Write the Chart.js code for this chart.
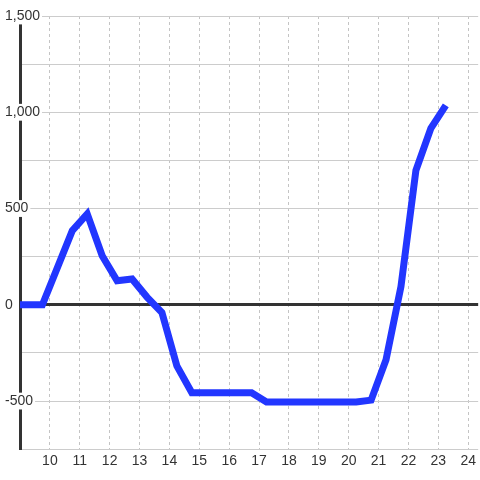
<!DOCTYPE html>
<html>
<head>
<meta charset="utf-8">
<script src="https://cdn.jsdelivr.net/npm/chart.js@4"></script>
<style>
  html, body { margin: 0; padding: 0; background: #fff; }
</style>
</head>
<body>
<canvas id="canvas-line" width="480" height="480"></canvas>
<script>
// x axis (hour of day)
const hours = [9, 9.75, 10.75, 11.25, 11.75, 12.25, 12.75, 13.25, 13.75, 14.25, 14.75,
  16.75, 17.25, 20.25, 20.75, 21.25, 21.75, 22.25, 22.75, 23.25];
// y axis
const values = [0, 0, 385, 472, 255, 125, 134, 40, -40, -318, -457,
  -457, -505, -505, -495, -285, 95, 698, 917, 1036];
const yTickLabels = [-500, 0, 500, 1000, 1500];
const xTickLabels = [10, 11, 12, 13, 14, 15, 16, 17, 18, 19, 20, 21, 22, 23, 24];

Chart.defaults.font.family = "'Liberation Sans', Arial, sans-serif";
Chart.defaults.font.size = 14;
Chart.defaults.color = "#333";

const points = hours.map((h, i) => ({ x: h, y: values[i] }));

let context = document.getElementById("canvas-line").getContext("2d");
new Chart(context, {
  type: "line",
  data: {
    datasets: [
      {
        data: points,
        borderColor: "#2236ff",
        borderWidth: 7,
        pointRadius: 0,
        tension: 0,
        fill: false,
      },
    ],
  },
  options: {
    responsive: false,
    animation: false,
    layout: { padding: { left: 3, right: 0, top: 16, bottom: 6 } },
    plugins: { legend: { display: false }, tooltip: { enabled: false } },
    scales: {
      x: {
        type: "linear",
        min: 9,
        max: 24.333,
        ticks: {
          stepSize: 1,
          includeBounds: false,
          autoSkip: false,
          maxRotation: 0,
          padding: 4,
          callback: (v) => (xTickLabels.includes(v) ? String(v) : ""),
        },
        grid: {
          drawTicks: false,
          color: (ctx) => (xTickLabels.includes(ctx.tick && ctx.tick.value) ? "#c4c4c4" : "rgba(0,0,0,0)"),
        },
        border: { display: false, dash: [3, 3] },
      },
      y: {
        min: -750,
        max: 1500,
        afterFit: (scale) => {
          scale.width = 17;
        },
        ticks: {
          stepSize: 250,
          autoSkip: false,
          mirror: true,
          padding: -15, // pull mirrored labels back over the axis line
          showLabelBackdrop: true,
          backdropColor: "#ffffff",
          backdropPadding: { left: 2, right: 2, top: 0, bottom: 0 },
          callback: (v) => (yTickLabels.includes(v) ? v.toLocaleString("en-US") : ""),
        },
        grid: {
          drawTicks: false,
          color: (ctx) => (ctx.tick && ctx.tick.value === 0 ? "#333333" : "#cccccc"),
          lineWidth: (ctx) => (ctx.tick && ctx.tick.value === 0 ? 3 : 1),
        },
        border: { display: true, color: "#333333", width: 3 },
      },
    },
  },
});
</script>
</body>
</html>
